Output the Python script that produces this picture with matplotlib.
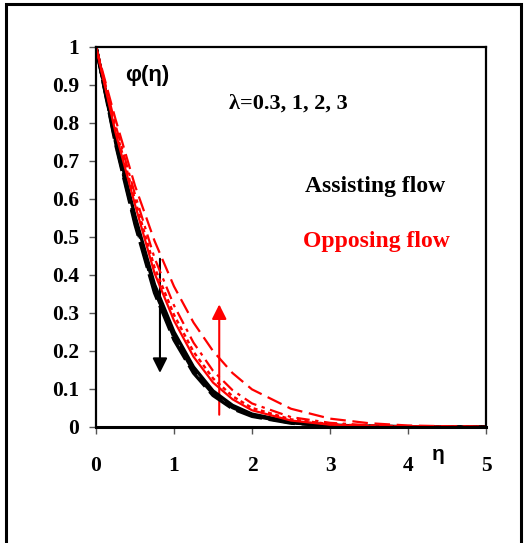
import matplotlib
matplotlib.use("Agg")
import matplotlib.pyplot as plt
from matplotlib.patches import Rectangle, FancyArrowPatch

# Similarity variable
eta = [0.0, 0.25, 0.5, 0.75, 1.0, 1.25, 1.5, 1.75, 2.0, 2.5, 3.0, 3.5, 4.0, 4.5, 5.0]

# Concentration profiles, assisting flow (lambda = 0.3, 1, 2, 3)
phi_assist_03 = [1.0, 0.76, 0.555, 0.375, 0.25, 0.158, 0.095, 0.057, 0.034, 0.013, 0.005, 0.002, 0.001, 0.0, 0.0]
phi_assist_1 = [1.0, 0.755, 0.548, 0.367, 0.243, 0.152, 0.091, 0.054, 0.032, 0.012, 0.0045, 0.0018, 0.0008, 0.0, 0.0]
phi_assist_2 = [1.0, 0.75, 0.54, 0.36, 0.236, 0.147, 0.087, 0.051, 0.030, 0.011, 0.004, 0.0015, 0.0006, 0.0, 0.0]
phi_assist_3 = [1.0, 0.745, 0.533, 0.353, 0.229, 0.142, 0.083, 0.048, 0.028, 0.010, 0.0036, 0.0013, 0.0005, 0.0, 0.0]

# Concentration profiles, opposing flow (lambda = 0.3, 1, 2, 3)
phi_oppose_03 = [1.0, 0.775, 0.585, 0.405, 0.28, 0.185, 0.117, 0.073, 0.044, 0.017, 0.006, 0.002, 0.001, 0.0, 0.0]
phi_oppose_1 = [1.0, 0.785, 0.597, 0.42, 0.295, 0.198, 0.128, 0.081, 0.050, 0.020, 0.0075, 0.003, 0.001, 0.0, 0.0]
phi_oppose_2 = [1.0, 0.795, 0.612, 0.445, 0.32, 0.222, 0.148, 0.097, 0.062, 0.026, 0.011, 0.0045, 0.002, 0.001, 0.0]
phi_oppose_3 = [1.0, 0.81, 0.635, 0.49, 0.37, 0.275, 0.2, 0.142, 0.099, 0.048, 0.022, 0.010, 0.004, 0.002, 0.001]

x_ticks = [0, 1, 2, 3, 4, 5]
y_ticks = [0, 0.1, 0.2, 0.3, 0.4, 0.5, 0.6, 0.7, 0.8, 0.9, 1]
y_tick_labels = ["0", "0.1", "0.2", "0.3", "0.4", "0.5", "0.6", "0.7", "0.8", "0.9", "1"]

serif = ["Liberation Serif", "DejaVu Serif"]
sans = ["Liberation Sans", "DejaVu Sans"]

fig = plt.figure(figsize=(5.30, 5.43), dpi=100)

# Outer frame around the figure
fig.patches.append(Rectangle((6 / 530, -0.05), (521 - 6) / 530, (1 - 4 / 543) + 0.05,
                             transform=fig.transFigure, fill=False,
                             edgecolor="black", linewidth=2.2, zorder=0))

ax = fig.add_axes([96 / 530, 1 - 427 / 543, 390 / 530, 380 / 543])

black_styles = [
    dict(ls="-", lw=2.4),
    dict(ls=(0, (4, 1.5)), lw=2.4),
    dict(ls=(0, (6, 1.5, 1.5, 1.5)), lw=2.4),
    dict(ls=(0, (8, 2)), lw=2.4),
]
red_styles = [
    dict(ls="-", lw=1.6),
    dict(ls=(0, (1.6, 1.4)), lw=1.8),
    dict(ls=(0, (6, 2.5, 1.5, 2.5)), lw=1.6),
    dict(ls=(0, (7, 3)), lw=1.6),
]

for phi, st in zip([phi_assist_03, phi_assist_1, phi_assist_2, phi_assist_3], black_styles):
    ax.plot(eta, phi, color="black", **st)
for phi, st in zip([phi_oppose_03, phi_oppose_1, phi_oppose_2, phi_oppose_3], red_styles):
    ax.plot(eta, phi, color="red", **st)

# Trend arrows for increasing lambda
ax.add_patch(FancyArrowPatch((0.82, 0.45), (0.82, 0.135), arrowstyle="-|>",
                             mutation_scale=22, color="black", lw=1.5))
ax.add_patch(FancyArrowPatch((1.58, 0.025), (1.58, 0.33), arrowstyle="-|>",
                             mutation_scale=22, color="red", lw=1.5))

ax.set_xlim(0, 5)
ax.set_ylim(0, 1)
ax.set_xticks(x_ticks)
ax.set_xticklabels([str(v) for v in x_ticks])
ax.set_yticks(y_ticks)
ax.set_yticklabels(y_tick_labels)
ax.tick_params(direction="out", length=5, width=1, color="#555555", pad=7)
ax.tick_params(axis="x", pad=16)
for lab in ax.get_xticklabels() + ax.get_yticklabels():
    lab.set_family(serif)
    lab.set_fontweight("bold")
    lab.set_fontsize(15.5)
for side in ["left", "right", "top"]:
    ax.spines[side].set_linewidth(1.6)
ax.spines["bottom"].set_linewidth(2.2)

ax.text(0.37, 0.925, "φ(η)", family=sans, fontsize=16, fontweight="bold",
        va="center", ha="left")
ax.text(1.71, 0.85, "λ=0.3, 1, 2, 3", family=serif, fontsize=16, fontweight="bold",
        va="center", ha="left")
ax.text(2.68, 0.632, "Assisting flow", family=serif, fontsize=17, fontweight="bold",
        va="center", ha="left", color="black")
ax.text(2.65, 0.487, "Opposing flow", family=serif, fontsize=17, fontweight="bold",
        va="center", ha="left", color="red")
fig.text(438 / 530, 1 - 455 / 543, "η", family=sans, fontsize=15, fontweight="bold",
         va="center", ha="center")

fig.savefig("out.png", dpi=100)
